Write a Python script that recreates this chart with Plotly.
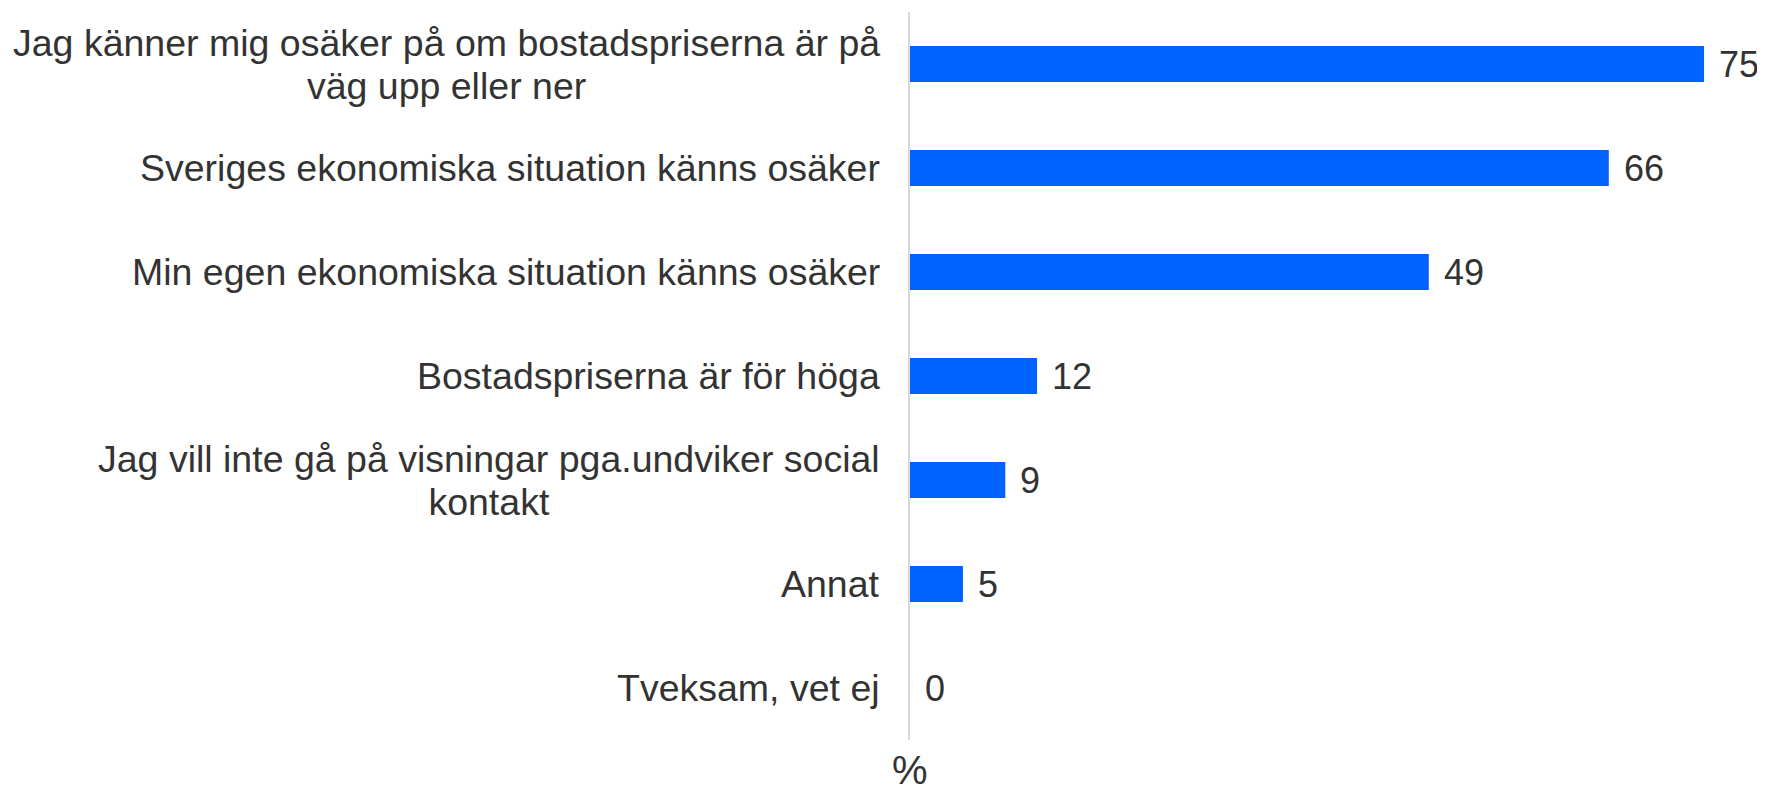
import plotly.graph_objects as go

categories = [
    "Jag känner mig osäker på om bostadspriserna är på<br>väg upp eller ner",
    "Sveriges ekonomiska situation känns osäker",
    "Min egen ekonomiska situation känns osäker",
    "Bostadspriserna är för höga",
    "Jag vill inte gå på visningar pga.undviker social<br>kontakt",
    "Annat",
    "Tveksam, vet ej",
]
values = [75, 66, 49, 12, 9, 5, 0]
axis_title = "%"

FONT = "Liberation Sans"
TXT = "#333333"
FS_LBL = 37.5
FS_VAL = 36


def big(label):
    # keep line spacing ~43px (1.3 * 33) while drawing glyphs at FS_LBL
    return "<br>".join(f'<span style="font-size:{FS_LBL}px">{p}</span>'
                       for p in label.split("<br>"))


fig = go.Figure()
fig.add_trace(go.Bar(
    x=values, y=list(range(len(categories))), orientation="h",
    marker=dict(color="#0062ff", line=dict(width=0)),
    width=0.345, hoverinfo="skip",
))

ann = []
for i, (c, v) in enumerate(zip(categories, values)):
    ann.append(dict(x=0, xref="paper", y=i, yref="y", text=big(c), showarrow=False,
                    xanchor="right", yanchor="middle", align="center", xshift=-28,
                    font=dict(family=FONT, size=33, color=TXT)))
    ann.append(dict(x=v, xref="x", y=i, yref="y", text=str(v), showarrow=False,
                    xanchor="left", yanchor="middle", xshift=13,
                    font=dict(family=FONT, size=FS_VAL, color=TXT)))
ann.append(dict(x=0, xref="x", y=0, yref="paper", text=axis_title, showarrow=False,
                xanchor="center", yanchor="top", yshift=-6,
                font=dict(family=FONT, size=40, color=TXT)))

fig.update_layout(
    width=1757, height=781,
    margin=dict(l=902, r=8, t=4, b=49),
    paper_bgcolor="white", plot_bgcolor="white",
    showlegend=False,
    annotations=ann,
    xaxis=dict(range=[0, 80], showgrid=False, zeroline=False, showticklabels=False,
               showline=False, ticks=""),
    yaxis=dict(range=[6.5, -0.5], showgrid=False, zeroline=False, showticklabels=False,
               showline=True, linecolor="#d9d9d9", linewidth=2, ticks=""),
)
fig.write_html("out.html")
